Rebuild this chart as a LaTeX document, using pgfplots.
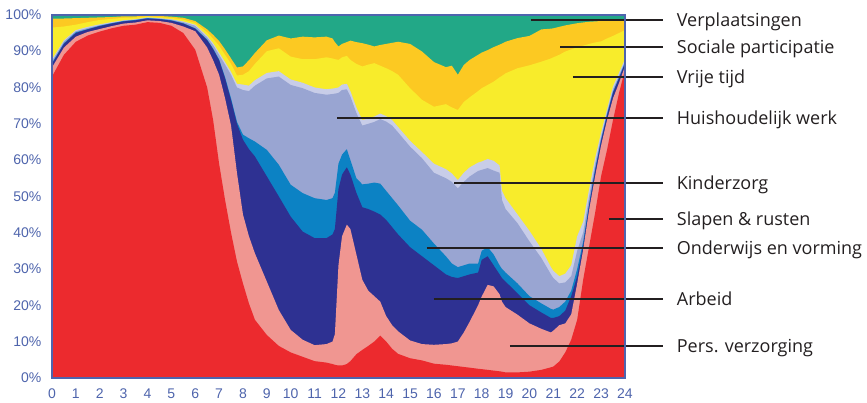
\documentclass[border=0pt]{standalone}
\usepackage{fontspec}
\usepackage{pgfplots}
\usepackage{pgfplotstable}
\pgfplotsset{compat=1.18}
\newfontfamily\tickfont{Liberation Sans}
\newfontfamily\labfont{Open Sans}

\definecolor{cslaap}{RGB}{236,42,46}
\definecolor{cpers}{RGB}{240,150,145}
\definecolor{carb}{RGB}{46,49,146}
\definecolor{cond}{RGB}{12,130,196}
\definecolor{chuis}{RGB}{153,165,210}
\definecolor{ckind}{RGB}{200,205,232}
\definecolor{cvrij}{RGB}{248,236,43}
\definecolor{csoc}{RGB}{252,201,34}
\definecolor{cverp}{RGB}{34,168,135}
\definecolor{axisblue}{RGB}{78,100,174}
\definecolor{tickblue}{RGB}{78,100,172}
\definecolor{labtext}{RGB}{35,31,32}

% cumulative upper edge of each activity (percent of people), per hour of the day
% R slapen, P pers. verzorging, A arbeid, O onderwijs, H huishoudelijk,
% K kinderzorg, V vrije tijd, S sociale participatie (verplaatsingen up to 100)
\pgfplotstableread{
h     R     P     A     O     H     K     V     S
0     83    85.5  86.5  86.7  87.3  87.7  96.5  99
0.5   89    91    92    92.2  92.7  93    96.8  99
1     92.6  94    95    95.2  95.5  95.8  97.3  99.1
1.5   94.3  95.3  96    96.1  96.4  96.7  98    99.2
2     95.4  96.1  96.9  97    97.2  97.4  98.6  99.3
2.5   96.3  96.9  97.6  97.7  97.8  98    98.9  99.4
3     97    97.6  98.2  98.3  98.4  98.5  99.2  99.6
3.5   97.3  97.9  98.5  98.6  98.7  98.8  99.3  99.6
4     98    98.5  99    99.1  99.2  99.3  99.6  99.8
4.5   97.8  98.3  98.8  98.9  99    99.1  99.4  99.7
5     97    97.8  98.4  98.5  98.7  98.8  99.2  99.5
5.5   95    96.8  97.6  97.7  98    98.2  98.7  99.2
6     90.4  95.5  96.2  96.3  97    97.3  97.8  98.3
6.5   80    91    93    93.2  93.8  94.2  95.2  96
6.75  71    87.5  90.5  90.7  91.7  92.2  93.4  94.5
7     59    83.5  87.5  87.7  89    89.6  91.5  92.8
7.25  49    77    82.5  82.8  86.3  87    89    90.5
7.5   40    69.5  76.5  77    83.5  84.3  86.5  88
7.75  32    56.4  70    70.5  80    81    83.3  85.5
8     26    45    65.6  67    79.3  80.8  83.5  85.8
8.25  20.5  39    63    66    79    80.5  84.5  87.5
8.5   16    34.3  61    65.1  80.5  82    86.5  89.5
9     11.8  26.5  55.5  62.8  82.5  84    90    93
9.5   8.8   18.7  50    58.7  83    84.5  90.8  94.3
10    7     13.2  44.4  53.2  80.7  82.2  88.5  93.5
10.5  5.8   10.5  40.3  50.9  79.8  81.3  87.8  94
11    4.6   9     38.5  49.5  78.5  80    87.8  93.8
11.5  4.2   9.3   38.5  49    78    79.5  88.3  94
11.75 3.8   10    39.5  49.5  78.2  79.7  88    93.5
11.85 3.6   12    41    51    78.3  79.8  87.8  92.5
12    3.4   31    52    59    78.5  80    87.6  91.3
12.15 3.4   39    56    61.5  79.3  80.8  88.3  92
12.35 3.8   42.2  58    63    79.5  81    88.7  92.5
12.5  4.6   41    56    60    77.5  79    87.6  92.9
12.75 6.5   34    51    55    73    74.5  86.5  92.5
13    7.7   27    47    53.3  69.5  71    85.8  92.2
13.25 8.8   24    46.5  53.5  70    71.5  86.3  91.8
13.5  10    22.5  45.8  53.8  70.5  72    86.7  91.3
13.75 11.6  21    45    53.5  71.3  72.8  86    91.7
14    10    17    43.5  51.5  70.6  72.1  85.3  92
14.25 8     14.5  41.5  49.5  69.5  71    84.5  92.3
14.5  6.6   12.8  39.5  47.5  67.6  69.1  83.5  92.6
15    5.4   10.3  36    43.3  63.7  65.3  79.8  92
15.5  4.8   9.3   33.5  40.8  60.5  62.2  76.6  89.9
16    3.9   9.1   31    37    56.5  59    74.7  87
16.5  3.6   9.3   28.5  33.5  55    57.5  75.4  85.6
16.75 3.4   9.5   27.8  31.5  54    56.3  74.5  86
17    3.2   10    27.5  30.5  52.2  54.5  73.8  83.5
17.25 3     12.5  28    31    54    56.5  76    86.2
17.5  2.8   15.5  28.5  31.5  55.5  58    77.3  87.6
17.85 2.5   20    29    31.5  57    59.3  79    89
18    2.4   22.4  32.5  35    57.3  59.6  79.8  89.6
18.25 2.2   25.6  33.5  36    57.8  60.3  80.7  90.3
18.5  2     25.2  31    34    57.1  59.8  81.6  91.1
18.75 1.8   23    28.5  31    56.5  58.5  82.8  91.8
18.85 1.7   21    27.5  30    49    51.5  83.2  92.1
19    1.5   19.5  26.5  29    46.5  49.5  83.9  92.6
19.5  1.5   17.4  23.3  26    42.6  45    85.3  93.6
20    1.7   15    20    22.5  37.6  40.5  86.1  94.2
20.5  2.2   13.5  18    20.5  33    35.5  87.1  96
20.9  2.9   12.5  16.5  19    28.5  30.5  88    96.2
21    3.1   13    16.5  18.8  27.5  29.5  88.3  96.3
21.25 4.5   14.5  17    19.5  26    28    89    96.7
21.5  7     15    18.5  21    26.3  28.7  89.9  97.1
21.75 10.5  17.5  22.5  24    28    31    90.5  97.4
22    16    26    28    30    35    39    91.1  97.7
22.25 27    35.3  36.5  37.5  40    43    91.5  97.9
22.5  36.2  46.3  47.5  48    50    52    92    98.1
22.75 45.4  55.5  57    57.5  59    60.5  92.4  98.2
23    55.5  64    65.3  65.6  66.5  67.5  92.7  98.3
23.25 62.8  71    72.3  72.6  73.3  74    93.5  98.5
23.5  71    77    78.5  78.8  79.5  80.3  94.2  98.6
23.75 78.4  81.2  82.5  82.7  83.3  84    95    98.7
24    84.8  85.8  86.6  86.8  87.3  87.8  95.8  98.8
}\dagdata

\begin{document}
\begin{tikzpicture}
\begin{axis}[
  scale only axis,
  width=429.75pt, height=272.25pt,
  xmin=0, xmax=24, ymin=0, ymax=100,
  xtick={0,1,...,24},
  xticklabels={0,1,2,3,4,5,6,7,8,9,10,11,12,13,14,15,16,17,18,19,20,21,22,23,24},
  ytick={0,10,...,100},
  yticklabels={0\%,10\%,20\%,30\%,40\%,50\%,60\%,70\%,80\%,90\%,100\%},
  tick style={draw=none},
  ticklabel style={font=\tickfont\fontsize{10.5}{11}\selectfont, text=tickblue},
  xticklabel style={yshift=-4.5pt},
  yticklabel style={xshift=-4.5pt},
  axis line style={draw=axisblue, line width=2pt},
  axis on top,
  clip=false,
]
\addplot[draw=none, fill=cverp] coordinates {(0,100) (24,100)} \closedcycle;
\addplot[draw=none, fill=csoc]  table[x=h, y=S] {\dagdata} \closedcycle;
\addplot[draw=none, fill=cvrij] table[x=h, y=V] {\dagdata} \closedcycle;
\addplot[draw=none, fill=ckind] table[x=h, y=K] {\dagdata} \closedcycle;
\addplot[draw=none, fill=chuis] table[x=h, y=H] {\dagdata} \closedcycle;
\addplot[draw=none, fill=cond]  table[x=h, y=O] {\dagdata} \closedcycle;
\addplot[draw=none, fill=carb]  table[x=h, y=A] {\dagdata} \closedcycle;
\addplot[draw=none, fill=cpers] table[x=h, y=P] {\dagdata} \closedcycle;
\addplot[draw=none, fill=cslaap] table[x=h, y=R] {\dagdata} \closedcycle;

% leader lines with activity names
\tikzset{lead/.style={draw=labtext, line width=1.5pt},
         lab/.style={anchor=base west, inner sep=0pt, xshift=9.75pt, yshift=-4.8pt,
                     text=labtext, font=\labfont\fontsize{13.5}{15}\selectfont}}
\draw[lead] (axis cs:20.06,98.6) -- (axis cs:25.59,98.6) node[lab] {Verplaatsingen};
\draw[lead] (axis cs:21.28,91.2) -- (axis cs:25.59,91.2) node[lab] {Sociale participatie};
\draw[lead] (axis cs:21.82,82.9) -- (axis cs:25.59,82.9) node[lab] {Vrije tijd};
\draw[lead] (axis cs:11.94,71.6) -- (axis cs:25.59,71.6) node[lab] {Huishoudelijk werk};
\draw[lead] (axis cs:16.84,53.7) -- (axis cs:25.59,53.7) node[lab] {Kinderzorg};
\draw[lead] (axis cs:23.33,43.8) -- (axis cs:25.59,43.8) node[lab] {Slapen \& rusten};
\draw[lead] (axis cs:15.70,35.8) -- (axis cs:25.59,35.8) node[lab] {Onderwijs en vorming};
\draw[lead] (axis cs:16.00,21.8) -- (axis cs:25.59,21.8) node[lab] {Arbeid};
\draw[lead] (axis cs:19.18,8.8)  -- (axis cs:25.59,8.8)  node[lab] {Pers. verzorging};

\coordinate (bbBL) at (axis cs:-2.178,-6.89);
\coordinate (bbTR) at (axis cs:34.14,104.1);
\end{axis}
\pgfresetboundingbox
\path (bbBL) rectangle (bbTR);
\end{tikzpicture}
\end{document}
